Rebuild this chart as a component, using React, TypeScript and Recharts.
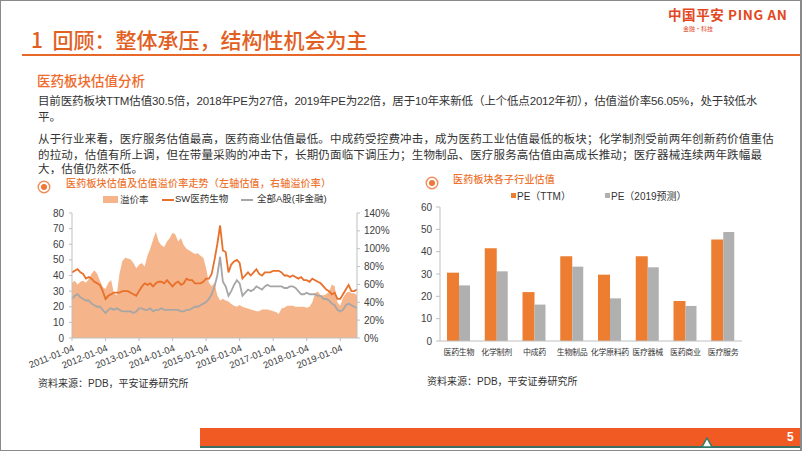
import React from 'react';
import {
  ComposedChart, Area, Line, XAxis, YAxis, BarChart, Bar,
} from 'recharts';

// ---------- left chart data (monthly, 2011-01 .. 2019-07) ----------
const START_YEAR = 2011;
const SW_PE = [
  42, 43, 44, 42, 41, 38, 39, 38, 36, 35, 34, 30,
  25, 27, 28, 29, 29, 29, 30, 30, 30, 29, 28, 27,
  30, 33, 35, 34, 35, 33, 35, 36, 36, 35, 37, 35,
  33, 35, 36, 34, 35, 38, 37, 37, 35, 35, 35, 36,
  38, 38, 41, 50, 60, 72, 56, 55, 42, 47, 49, 50,
  48, 38, 40, 42, 40, 42, 44, 41, 40, 42, 42, 42,
  43, 43, 43, 42, 40, 40, 39, 40, 39, 38, 39, 37,
  37, 36, 38, 37, 36, 35, 33, 31, 30, 28, 29, 25,
  25, 28, 31, 34, 30, 30, 31,
];
const ALL_A_PE = [
  25, 27, 28, 26, 25, 24, 24, 22, 21, 20, 20, 18,
  16, 18, 19, 18, 19, 18, 17, 17, 17, 17, 16, 17,
  19, 19, 18, 18, 19, 17, 18, 18, 19, 18, 18, 18,
  18, 18, 18, 17, 17, 18, 18, 19, 20, 20, 21, 22,
  23, 25, 28, 33, 40, 52, 36, 33, 27, 30, 34, 37,
  35, 27, 29, 31, 30, 31, 33, 32, 31, 33, 34, 33,
  33, 33, 33, 33, 32, 32, 33, 33, 32, 30, 28, 28,
  29, 28, 28, 28, 27, 27, 25, 25, 24, 22, 21, 18,
  17, 18, 21, 22, 21, 20, 19,
];
const PREMIUM = [
  62, 64, 60, 63, 64, 62, 66, 72, 76, 72, 64, 57,
  55, 62, 65, 50, 48, 72, 86, 90, 89, 88, 84, 78,
  82, 84, 80, 92, 100, 110, 119, 108, 104, 102, 108, 112,
  118, 116, 108, 112, 104, 100, 98, 96, 94, 95, 92, 90,
  78, 62, 58, 62, 48, 42, 44, 42, 41, 38, 36, 35,
  37, 35, 34, 33, 32, 31, 30, 30, 32, 32, 32, 31,
  30, 29, 27, 33, 34, 36, 36, 36, 35, 35, 35, 35,
  34, 35, 40, 50, 52, 48, 48, 49, 52, 60, 58, 40,
  36, 45, 50, 52, 50, 50, 48,
];
const YEAR_TICKS = ['2011-01', '2012-01', '2013-01', '2014-01', '2015-01', '2016-01', '2017-01', '2018-01', '2019-01'];
const LEFT_TICKS = [0, 10, 20, 30, 40, 50, 60, 70, 80];
const RIGHT_TICKS = [0, 20, 40, 60, 80, 100, 120, 140];

const MONTHS = SW_PE.map((_, i) => {
  const y = START_YEAR + Math.floor(i / 12);
  const m = (i % 12) + 1;
  return `${y}-${m < 10 ? '0' + m : m}`;
});
const lineData = MONTHS.map((d, i) => ({ d, sw: SW_PE[i], all: ALL_A_PE[i], prem: PREMIUM[i] }));

// ---------- right chart data ----------
const SECTORS = ['医药生物', '化学制剂', '中成药', '生物制品', '化学原料药', '医疗器械', '医药商业', '医疗服务'];
const PE_TTM = [30.6, 41.5, 21.9, 38.0, 29.7, 37.9, 17.9, 45.5];
const PE_2019 = [24.9, 31.2, 16.3, 33.3, 19.1, 33.0, 15.7, 48.8];
const BAR_TICKS = [0, 10, 20, 30, 40, 50, 60];
const barData = SECTORS.map((s, i) => ({ s, ttm: PE_TTM[i], f19: PE_2019[i] }));

const CJK = '"Noto Sans CJK SC", "Noto Sans", sans-serif';
const MIX = '"Liberation Sans", "Noto Sans CJK SC", sans-serif';
const LAT = '"Liberation Sans", Arial, sans-serif';
const ORANGE = '#ED7D31';
const TEXT = '#333333';

const RotTick = (props: any) => {
  const { x, y, payload } = props;
  return (
    <text x={x} y={y} transform={`rotate(-22 ${x} ${y})`} textAnchor="end" dy={8}
      fontSize={9.5} fontFamily={LAT} fill="#404040">
      {payload.value}-04
    </text>
  );
};

const Icon = ({ x, y }: { x: number; y: number }) => (
  <div style={{ position: 'absolute', left: x - 7, top: y - 7, width: 14, height: 14 }}>
    <svg width={14} height={14}>
      <circle cx={7} cy={7} r={5.8} fill="none" stroke="#F08C5A" strokeWidth={1.4} />
      <circle cx={7} cy={7} r={3} fill="#EE7838" />
    </svg>
  </div>
);

// text placed by its vertical centre
const T = ({ x, cy, size, color, children, weight, family, ls, lh }: any) => {
  const h = Math.round(size * (lh || 1.05));
  return (
    <div style={{
      position: 'absolute', left: x, top: cy - h / 2, height: h, fontSize: size, color, whiteSpace: 'nowrap',
      fontWeight: weight || 400, fontFamily: family || CJK, lineHeight: `${h}px`,
      letterSpacing: ls || 0,
    }}>{children}</div>
  );
};

export default function App() {
  return (
    <div style={{ position: 'absolute', left: 0, top: 0, width: 802, height: 451, background: '#fff', overflow: 'hidden', fontFamily: CJK }}>
      {/* frame */}
      <div style={{ position: 'absolute', left: 0, top: 0, width: 802, height: 451, boxSizing: 'border-box', border: '1px solid #8a8a8a', borderRightWidth: 2, zIndex: 5, pointerEvents: 'none' }} />

      {/* title */}
      <T x={31} cy={39} size={21} color="#E2601F" weight={500}>1&nbsp;&nbsp;回顾：整体承压，结构性机会为主</T>
      <div style={{ position: 'absolute', left: 22, top: 54, width: 780, height: 2, background: '#E8682A' }} />

      {/* logo */}
      <T x={668} cy={14} size={13.5} color="#E3471F" weight={700} ls={0.6}>中国平安 PING AN</T>
      <T x={683} cy={28.5} size={6} color="#E3471F">金融·科技</T>

      {/* heading + body text */}
      <T x={37} cy={80} size={13.5} color="#EF6A2C" weight={500}>医药板块估值分析</T>
      <T x={38} cy={101} size={11.5} color={TEXT} family={MIX} ls={-0.15}>目前医药板块TTM估值30.5倍，2018年PE为27倍，2019年PE为22倍，居于10年来新低（上个低点2012年初），估值溢价率56.05%，处于较低水</T>
      <T x={38} cy={117} size={11.5} color={TEXT} family={MIX}>平。</T>
      <T x={38} cy={139} size={11.5} color={TEXT} family={MIX} ls={0.18}>从于行业来看，医疗服务估值最高，医药商业估值最低。中成药受控费冲击，成为医药工业估值最低的板块；化学制剂受前两年创新药价值重估</T>
      <T x={38} cy={155} size={11.5} color={TEXT} family={MIX} ls={0.18}>的拉动，估值有所上调，但在带量采购的冲击下，长期仍面临下调压力；生物制品、医疗服务高估值由高成长推动；医疗器械连续两年跌幅最</T>
      <T x={38} cy={169} size={11.5} color={TEXT} family={MIX} ls={0.18}>大，估值仍然不低。</T>

      {/* left chart header + legend */}
      <Icon x={44} y={182} />
      <T x={66} cy={182.5} size={10} color="#EE7430" weight={500} ls={0.2}>医药板块估值及估值溢价率走势（左轴估值，右轴溢价率）</T>
      <div style={{ position: 'absolute', left: 103, top: 196, width: 15, height: 7, background: '#F5B48A' }} />
      <T x={120} cy={199} size={9.5} color={TEXT}>溢价率</T>
      <div style={{ position: 'absolute', left: 162, top: 199, width: 12, height: 2, background: '#E8702A' }} />
      <T x={175} cy={199} size={9.5} color={TEXT} family={MIX}>SW医药生物</T>
      <div style={{ position: 'absolute', left: 241, top: 199, width: 12, height: 2, background: '#A6A6A6' }} />
      <T x={257} cy={199} size={9.5} color={TEXT} family={MIX}>全部A股(非金融)</T>

      {/* left chart */}
      <div style={{ position: 'absolute', left: 0, top: 205 }}>
        <ComposedChart width={400} height={175} data={lineData} margin={{ top: 8, right: 0, bottom: 0, left: 0 }}>
          <XAxis dataKey="d" scale="point" ticks={YEAR_TICKS} interval={0} tick={<RotTick />}
            height={42} tickSize={3} tickMargin={2} stroke="#BFBFBF" padding={{ left: 0, right: 0 }} />
          <YAxis yAxisId="left" domain={[0, 80]} ticks={LEFT_TICKS} width={72} tickSize={3} tickMargin={5}
            stroke="#BFBFBF" tick={{ fontSize: 10, fontFamily: LAT, fill: '#404040' }} interval={0} />
          <YAxis yAxisId="right" orientation="right" domain={[0, 140]} ticks={RIGHT_TICKS} width={43}
            tickSize={3} tickMargin={4} stroke="#BFBFBF" tickFormatter={(v: number) => `${v}%`}
            tick={{ fontSize: 10, fontFamily: LAT, fill: '#404040' }} interval={0} />
          <Area yAxisId="right" type="linear" dataKey="prem" fill="#F5B48A" fillOpacity={1} stroke="none" isAnimationActive={false} />
          <Line yAxisId="left" type="linear" dataKey="all" stroke="#A6A6A6" strokeWidth={1.8} dot={false} isAnimationActive={false} />
          <Line yAxisId="left" type="linear" dataKey="sw" stroke="#E8702A" strokeWidth={1.8} dot={false} isAnimationActive={false} />
        </ComposedChart>
      </div>
      <T x={38} cy={383} size={10} color={TEXT} family={MIX}>资料来源：PDB，平安证券研究所</T>

      {/* right chart header + legend */}
      <Icon x={432} y={178} />
      <T x={453} cy={178} size={10} color="#EE7430" weight={500} ls={0.2}>医药板块各子行业估值</T>
      <div style={{ position: 'absolute', left: 511, top: 193, width: 5, height: 5, background: ORANGE }} />
      <T x={517} cy={196} size={10} color={TEXT} family={MIX}>PE（TTM）</T>
      <div style={{ position: 'absolute', left: 605, top: 193, width: 5, height: 5, background: '#B0B0B0' }} />
      <T x={611} cy={196} size={10} color={TEXT} family={MIX}>PE（2019预测）</T>

      {/* right chart */}
      <div style={{ position: 'absolute', left: 400, top: 200 }}>
        <BarChart width={400} height={170} data={barData} margin={{ top: 7, right: 58, bottom: 0, left: 0 }}
          barGap={0} barCategoryGap="19%">
          <XAxis dataKey="s" interval={0} height={29} tickLine={false} stroke="#BFBFBF"
            tick={{ fontSize: 8, fontFamily: CJK, fill: TEXT, letterSpacing: -0.35 }} />
          <YAxis domain={[0, 60]} ticks={BAR_TICKS} width={40} tickSize={4} tickMargin={4} interval={0}
            stroke="#BFBFBF" tick={{ fontSize: 10, fontFamily: LAT, fill: '#404040' }} />
          <Bar dataKey="ttm" fill={ORANGE} barSize={12} isAnimationActive={false} />
          <Bar dataKey="f19" fill="#B0B0B0" barSize={11} isAnimationActive={false} />
        </BarChart>
      </div>
      <T x={427} cy={381} size={10} color={TEXT} family={MIX}>资料来源：PDB，平安证券研究所</T>

      {/* footer */}
      <div style={{ position: 'absolute', left: 200, top: 428, width: 602, height: 18, background: '#F15A22' }} />
      <div style={{ position: 'absolute', left: 200, top: 446, width: 602, height: 2, background: '#3F6F63' }} />
      <svg style={{ position: 'absolute', left: 701, top: 437 }} width={12} height={11}>
        <path d="M6 1 L11 10 L1 10 Z" fill="#fff" stroke="#2E7D6B" strokeWidth={1.5} />
      </svg>
      <T x={787} cy={437} size={12} color="#fff" weight={700} family={LAT}>5</T>
    </div>
  );
}
